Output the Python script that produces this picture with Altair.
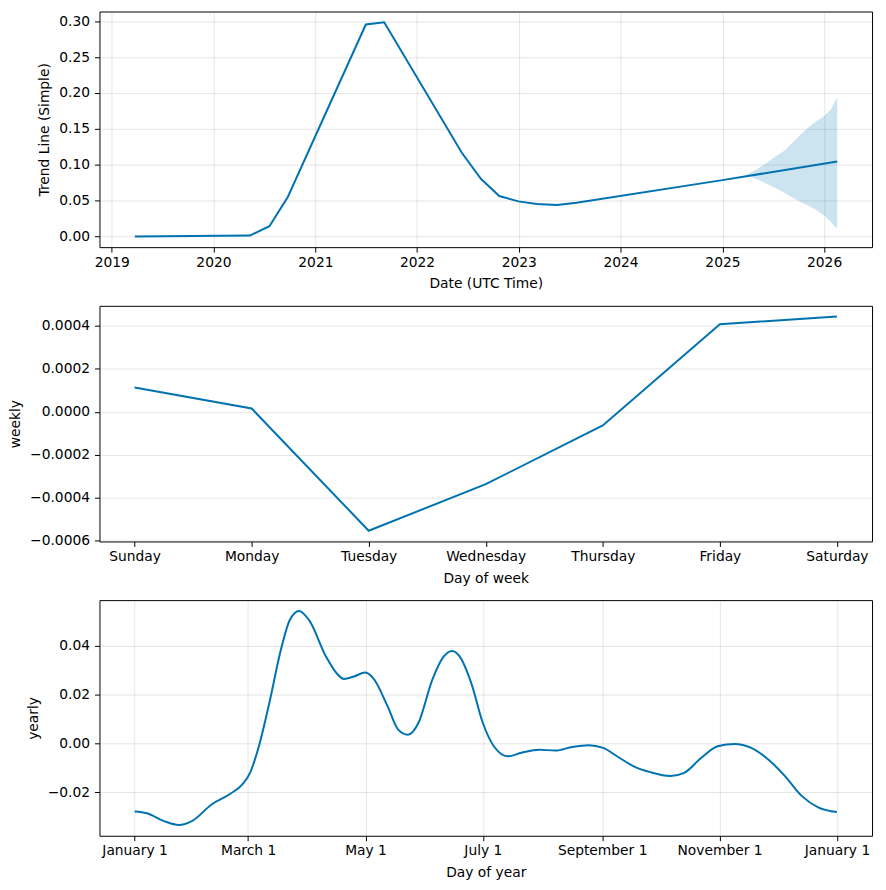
import altair as alt
import pandas as pd

FONT = "DejaVu Sans"
BLUE = "#0072B2"

# ---- Trend panel data ----
trend_dates = ["2019-03-25", "2020-05-11", "2020-07-20", "2020-09-24", "2021-07-01",
               "2021-09-05", "2022-06-10", "2022-08-18", "2022-10-23", "2022-12-31",
               "2023-03-07", "2023-05-19", "2023-07-27", "2025-01-01", "2026-02-17"]
trend_values = [0.0, 0.0012, 0.0143, 0.055, 0.2954,
                0.2986, 0.117, 0.0803, 0.0563, 0.0489,
                0.0452, 0.0438, 0.0471, 0.0785, 0.1045]

band_dates = ["2025-03-28", "2025-04-30", "2025-06-03", "2025-07-09", "2025-08-11",
              "2025-09-16", "2025-10-23", "2025-11-28", "2026-01-01", "2026-01-27",
              "2026-02-10", "2026-02-17"]
band_upper = [0.0861, 0.0925, 0.1009, 0.111, 0.1194, 0.1333, 0.1472, 0.1588, 0.168, 0.178, 0.189, 0.193]
band_lower = [0.0861, 0.0805, 0.0746, 0.068, 0.061, 0.0525, 0.0452, 0.0382, 0.0292, 0.0199, 0.013, 0.012]

trend_ticks = [2019, 2020, 2021, 2022, 2023, 2024, 2025, 2026]
trend_yticks = [0.0, 0.05, 0.10, 0.15, 0.20, 0.25, 0.30]

# ---- Weekly panel data ----
days = ["Sunday", "Monday", "Tuesday", "Wednesday", "Thursday", "Friday", "Saturday"]
weekly_values = [0.000113, 0.0000155, -0.000554, -0.000337, -0.0000634, 0.000408, 0.000444]
weekly_yticks = [-0.0006, -0.0004, -0.0002, 0.0, 0.0002, 0.0004]

# ---- Yearly panel data ----
year_days = [0, 6.4, 15, 23, 30, 40, 50, 56, 60, 64.6, 70, 76, 80.6, 85.5, 90.7, 99.5,
             105, 108.8, 114, 119.8, 124, 131.5, 137, 142, 147.5, 154.7, 160.6, 165,
             169, 175, 181, 186.7, 194, 201, 210, 218.7, 227.5, 236, 243.5, 250.7,
             259.4, 268, 278.4, 285.6, 294.4, 303, 311.8, 320.5, 329.3, 338, 346.8,
             355.5, 365]
yearly_values = [-0.0279, -0.0286, -0.0317, -0.0334, -0.0317, -0.0250, -0.0205, -0.0168,
                 -0.0121, -0.0012, 0.0164, 0.0381, 0.0503, 0.0541, 0.0503, 0.0354,
                 0.0286, 0.0263, 0.0273, 0.0289, 0.0266, 0.0151, 0.0056, 0.0035,
                 0.0083, 0.0259, 0.0354, 0.0377, 0.0354, 0.0245, 0.0083, -0.0012,
                 -0.0053, -0.0039, -0.0026, -0.0030, -0.0015, -0.0008, -0.0019, -0.0053,
                 -0.0094, -0.0118, -0.0134, -0.0121, -0.0060, -0.0012, -0.0003, -0.0019,
                 -0.0066, -0.0134, -0.0216, -0.0263, -0.0281]
year_tick_days = [0, 59, 120, 181, 243, 304, 365]
year_tick_labels = ["January 1", "March 1", "May 1", "July 1", "September 1", "November 1", "January 1"]
yearly_yticks = [-0.02, 0.0, 0.02, 0.04]

W, H = 777, 237
FS = 13.9
MINUS = "replace(datum.label, '-', '\u2212')"

trend_df = pd.DataFrame({"ds": trend_dates, "trend": trend_values})
band_df = pd.DataFrame({"ds": band_dates, "upper": band_upper, "lower": band_lower})
weekly_df = pd.DataFrame({"day": days, "weekly": weekly_values})
yearly_df = pd.DataFrame({"doy": year_days, "yearly": yearly_values})

x_trend = alt.X(
    "ds:T",
    title="Date (UTC Time)",
    scale=alt.Scale(type="utc",
                    domain=[alt.DateTime(year=2018, month=11, date=18, utc=True),
                            alt.DateTime(year=2026, month=6, date=22, utc=True)]),
    axis=alt.Axis(values=[alt.DateTime(year=y, month=1, date=1, utc=True) for y in trend_ticks],
                  format="%Y", labelAngle=0),
)
trend_scale = alt.Scale(domain=[-0.0149, 0.3135], nice=False, zero=False)
trend_axis = alt.Axis(values=trend_yticks, format=".2f", labelExpr=MINUS, labelOverlap=False)

band = alt.Chart(band_df).mark_area(color=BLUE, opacity=0.2).encode(
    x=x_trend,
    y=alt.Y("upper:Q", title="Trend Line (Simple)", scale=trend_scale, axis=trend_axis),
    y2="lower:Q",
)
trend_line = alt.Chart(trend_df).mark_line(color=BLUE, strokeWidth=2).encode(
    x=x_trend,
    y=alt.Y("trend:Q", title="Trend Line (Simple)", scale=trend_scale, axis=trend_axis),
)
trend_chart = alt.layer(band, trend_line).properties(width=W, height=H)

weekly_chart = alt.Chart(weekly_df).mark_line(color=BLUE, strokeWidth=2).encode(
    x=alt.X("day:N", title="Day of week", sort=days,
            scale=alt.Scale(type="point", padding=0.3),
            axis=alt.Axis(labelAngle=0)),
    y=alt.Y("weekly:Q", title="weekly",
            scale=alt.Scale(domain=[-0.000604, 0.000494], nice=False, zero=False),
            axis=alt.Axis(values=weekly_yticks, format=".4f", labelExpr=MINUS, labelOverlap=False)),
).properties(width=W, height=H)

label_js = "[" + ",".join("'" + s + "'" for s in year_tick_labels) + "]"
days_js = "[" + ",".join(str(d) for d in year_tick_days) + "]"
yearly_chart = alt.Chart(yearly_df).mark_line(color=BLUE, strokeWidth=2, interpolate="monotone").encode(
    x=alt.X("doy:Q", title="Day of year",
            scale=alt.Scale(domain=[-18.25, 383.25], nice=False, zero=False),
            axis=alt.Axis(values=year_tick_days, labelOverlap=False,
                          labelExpr=label_js + "[indexof(" + days_js + ", datum.value)]")),
    y=alt.Y("yearly:Q", title="yearly",
            scale=alt.Scale(domain=[-0.0378, 0.0585], nice=False, zero=False),
            axis=alt.Axis(values=yearly_yticks, format=".2f", labelExpr=MINUS, labelOverlap=False)),
).properties(width=W, height=H)

chart = alt.vconcat(trend_chart, weekly_chart, yearly_chart, spacing=13).properties(
    padding={"left": 0, "top": 0, "right": 5, "bottom": 5},
    background="white",
).configure_view(
    stroke="black", strokeWidth=1,
).configure_axis(
    labelFont=FONT, titleFont=FONT, labelFontSize=FS, titleFontSize=FS,
    titleFontWeight="normal", labelColor="black", titleColor="black",
    tickColor="black", tickSize=5, tickWidth=1,
    gridColor="#808080", gridOpacity=0.2, gridWidth=1, domain=False,
).configure_axisX(
    labelPadding=3, titlePadding=8,
).configure_axisY(
    labelPadding=5, titlePadding=7,
)

chart.save("out.html", embed_options={"renderer": "svg", "actions": False})
